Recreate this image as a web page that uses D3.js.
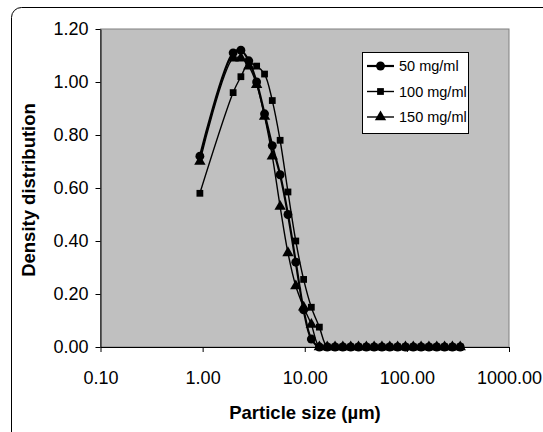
<!DOCTYPE html>
<html>
<head>
<meta charset="utf-8">
<script src="https://cdn.jsdelivr.net/npm/d3@7.9.0/dist/d3.min.js"></script>
<style>
  body { margin: 0; background: #fff; }
  svg { display: block; font-family: "Liberation Sans", Arial, sans-serif; }
</style>
</head>
<body>
<svg id="chart" width="543" height="432"></svg>
<script>
// particle size bins (µm)
const sizes = [0.94, 1.99, 2.37, 2.83, 3.38, 4.04, 4.81, 5.74, 6.85, 8.17, 9.75, 11.6,
  13.9, 16.6, 19.8, 23.6, 28.2, 33.6, 40.1, 47.8, 57.0, 68.0, 81.2, 96.8, 115.5,
  137.8, 164.4, 196.2, 234, 279, 333];

const conc50 = [0.72, 1.11, 1.12, 1.08, 1.00, 0.88, 0.76, 0.65, 0.50, 0.32, 0.14, 0.03,
  0, 0, 0, 0, 0, 0, 0, 0, 0, 0, 0, 0, 0, 0, 0, 0, 0, 0, 0];
const conc100 = [0.58, 0.96, 1.02, 1.07, 1.06, 1.03, 0.93, 0.78, 0.585, 0.40, 0.255, 0.15,
  0.075, 0, 0, 0, 0, 0, 0, 0, 0, 0, 0, 0, 0, 0, 0, 0, 0, 0, 0];
const conc150 = [0.70, 1.09, 1.09, 1.06, 0.99, 0.87, 0.72, 0.53, 0.355, 0.23, 0.15, 0.085,
  0, 0, 0, 0, 0, 0, 0, 0, 0, 0, 0, 0, 0, 0, 0, 0, 0, 0, 0];

const seriesNames = ["50 mg/ml", "100 mg/ml", "150 mg/ml"];
const xTicks = [0.1, 1, 10, 100, 1000];
const yTicks = [0, 0.2, 0.4, 0.6, 0.8, 1.0, 1.2];

const series = [
  { name: seriesNames[0], values: conc50, symbol: d3.symbolCircle, size: 62, width: 2.2 },
  { name: seriesNames[1], values: conc100, symbol: d3.symbolSquare, size: 46, width: 1.4 },
  { name: seriesNames[2], values: conc150, symbol: d3.symbolTriangle, size: 56, width: 1.4 }
];

const svg = d3.select("#chart");
const plotL = 100.5, plotR = 509, plotT = 29, plotB = 347;

const x = d3.scaleLog().domain([0.1, 1000]).range([plotL, plotR]);
const y = d3.scaleLinear().domain([0, 1.2]).range([plotB, plotT]);

// outer frame (runs past the window on right/bottom)
svg.append("rect")
  .attr("x", 11.5).attr("y", 7.5)
  .attr("width", 560).attr("height", 460)
  .attr("rx", 10)
  .attr("fill", "none").attr("stroke", "#000").attr("stroke-width", 1);

// plot area
svg.append("rect")
  .attr("x", plotL).attr("y", plotT)
  .attr("width", plotR - plotL).attr("height", plotB - plotT)
  .attr("fill", "#c0c0c0")
  .attr("stroke", "#808080").attr("stroke-width", 1);

// axes
const xAxis = d3.axisBottom(x).tickValues(xTicks)
  .tickFormat(d3.format(".2f")).tickSize(5).tickSizeOuter(0);
const yAxis = d3.axisLeft(y).tickValues(yTicks)
  .tickFormat(d3.format(".2f")).tickSize(5).tickSizeOuter(0);

const gx = svg.append("g").attr("transform", `translate(0,${plotB})`).call(xAxis);
const gy = svg.append("g").attr("transform", `translate(${plotL},0)`).call(yAxis);

[gx, gy].forEach(g => {
  g.select(".domain").attr("stroke", "#000");
  g.selectAll(".tick line").attr("stroke", "#000");
  g.selectAll(".tick text")
    .attr("font-family", "Liberation Sans, Arial, sans-serif")
    .attr("font-size", 18).attr("fill", "#000");
});
gx.selectAll(".tick text").attr("dy", null).attr("y", 37);
gy.selectAll(".tick text").attr("x", -12);

// axis titles
svg.append("text")
  .attr("x", 305).attr("y", 419)
  .attr("text-anchor", "middle")
  .attr("font-size", 18.5).attr("font-weight", "bold")
  .text("Particle size (µm)");

svg.append("text")
  .attr("transform", "translate(35,190) rotate(-90)")
  .attr("text-anchor", "middle")
  .attr("font-size", 18.5).attr("font-weight", "bold")
  .text("Density distribution");

// series
const line = d3.line()
  .x((d, i) => x(sizes[i]))
  .y(d => y(d))
  .curve(d3.curveCatmullRom);

const plot = svg.append("g");
series.forEach(s => {
  plot.append("path")
    .attr("d", line(s.values))
    .attr("fill", "none")
    .attr("stroke", "#000")
    .attr("stroke-width", s.width);
  plot.selectAll(null)
    .data(s.values)
    .enter()
    .append("path")
    .attr("d", d3.symbol(s.symbol, s.size))
    .attr("transform", (d, i) => `translate(${x(sizes[i])},${y(d)})`)
    .attr("fill", "#000");
});

// legend
const lg = svg.append("g").attr("transform", "translate(362,52)");
lg.append("rect")
  .attr("x", 0.5).attr("y", 0.5)
  .attr("width", 106).attr("height", 81)
  .attr("fill", "#fff").attr("stroke", "#000");
series.forEach((s, i) => {
  const row = lg.append("g").attr("transform", `translate(0,${14 + i * 25.5})`);
  row.append("line")
    .attr("x1", 5).attr("x2", 32)
    .attr("stroke", "#000").attr("stroke-width", s.width);
  row.append("path")
    .attr("d", d3.symbol(s.symbol, s.size))
    .attr("transform", "translate(18.5,0)")
    .attr("fill", "#000");
  row.append("text")
    .attr("x", 37).attr("y", 5)
    .attr("font-size", 14.5)
    .text(s.name);
});
</script>
</body>
</html>
